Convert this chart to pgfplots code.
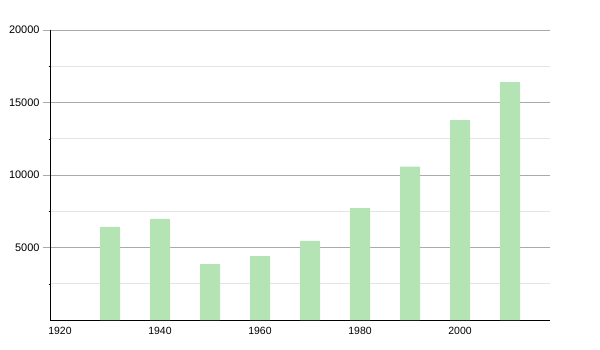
\documentclass[border=0pt]{standalone}
\usepackage{pgfplots}
\pgfplotsset{compat=1.18}
\usepackage{fontspec}
\setmainfont{Liberation Sans}
\definecolor{barg}{RGB}{180,228,180}
\definecolor{majg}{RGB}{170,170,170}
\definecolor{ming}{RGB}{228,228,228}
\begin{document}
\begin{tikzpicture}
\begin{axis}[
  name=ax,
  scale only axis,
  width=500bp, height=290bp,
  xmin=1918, xmax=2018,
  ymin=0, ymax=20000,
  axis x line=bottom, axis y line=left,
  axis line style={black, -},
  xtick={1920,1940,1960,1980,2000},
  ytick={5000,10000,15000,20000},
  minor ytick={2500,7500,12500,17500},
  x tick style={draw=none},
  major y tick style={majg},
  minor y tick style={black},
  tick align=center,
  major tick length=14bp,
  minor tick length=3bp,
  ymajorgrids, yminorgrids,
  major grid style={majg, line width=0.8pt},
  minor grid style={ming, line width=0.8pt},
  /pgf/number format/assume math mode=true,
  /pgf/number format/1000 sep={},
  xticklabel style={font=\fontsize{10.5}{12}\selectfont, yshift=10.5bp},
  yticklabel style={font=\fontsize{11}{12}\selectfont},
  scaled y ticks=false,
  ybar, bar width=20bp,
  clip=false,
]
\addplot[fill=barg, draw=none] coordinates {
 (1930,6420) (1940,6970) (1950,3860) (1960,4410) (1970,5450)
 (1980,7720) (1990,10570) (2000,13790) (2010,16410)
};
\end{axis}
\useasboundingbox (ax.south west) ++(-50bp,-30bp) rectangle ++(600bp,350bp);
\end{tikzpicture}
\end{document}
